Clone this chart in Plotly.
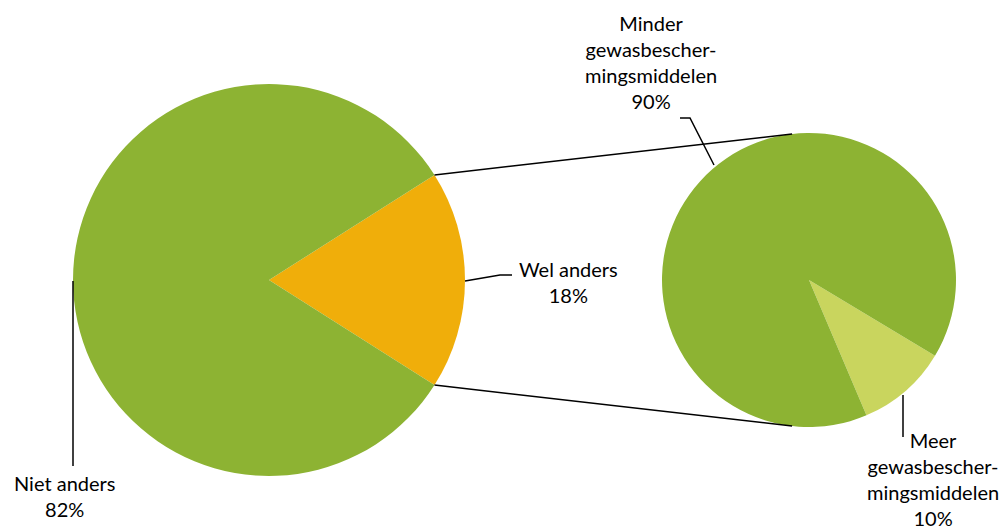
import math
import plotly.graph_objects as go

# ── Data ──────────────────────────────────────────────────────────────
main_labels = ["Wel anders", "Niet anders"]
main_values = [18, 82]
sub_labels = ["Meer gewasbescher-mingsmiddelen", "Minder gewasbescher-mingsmiddelen"]
sub_values = [10, 90]

GREEN = "#8DB333"
ORANGE = "#F0AE0A"
LIGHT = "#C9D55E"
FONT = "Lato, 'Open Sans', sans-serif"

# page body has an 8px margin, so the figure is drawn 8px in from the window corner
OFF = 8
W, H = 1008 - OFF, 529 - OFF

# pie geometry in window pixels (centre x, centre y, radius)
L_CX, L_CY, L_R = 269, 280, 196
R_CX, R_CY, R_R = 809, 280, 147


def px(x, y):
    return (x - OFF) / W, 1 - (y - OFF) / H


def dom(cx, cy, r):
    x0, y0 = px(cx - r, cy + r)
    x1, y1 = px(cx + r, cy - r)
    return dict(x=[x0, x1], y=[y0, y1])


# "Wel anders" slice centred on 3 o'clock
half = main_values[0] / sum(main_values) * 360 / 2

fig = go.Figure()
fig.add_trace(go.Pie(
    labels=main_labels, values=main_values, sort=False, direction="clockwise",
    rotation=90 - half, marker=dict(colors=[ORANGE, GREEN]),
    textinfo="none", hoverinfo="label+percent", domain=dom(L_CX, L_CY, L_R),
    showlegend=False,
))
fig.add_trace(go.Pie(
    labels=sub_labels, values=sub_values, sort=False, direction="clockwise",
    rotation=121, marker=dict(colors=[LIGHT, GREEN]),
    textinfo="none", hoverinfo="label+percent", domain=dom(R_CX, R_CY, R_R),
    showlegend=False,
))

shapes = []
# connector lines between the two pies
for sgn in (1, -1):
    a = math.radians(half) * sgn
    x0 = L_CX + L_R * math.cos(a)
    y0 = L_CY - L_R * math.sin(a)
    b = math.radians(90 + 6.6) * sgn
    x1 = R_CX + R_R * math.cos(b)
    y1 = R_CY - R_R * math.sin(b)
    p0, p1 = px(x0, y0), px(x1, y1)
    shapes.append(dict(type="line", xref="paper", yref="paper",
                       x0=p0[0], y0=p0[1], x1=p1[0], y1=p1[1],
                       line=dict(color="black", width=1.5)))


def leader(points):
    pts = [px(x, y) for x, y in points]
    path = "M " + " L ".join(f"{x},{y}" for x, y in pts)
    shapes.append(dict(type="path", xref="paper", yref="paper", path=path,
                       line=dict(color="black", width=1.5)))


leader([(73, 281), (73, 466)])
leader([(465, 281), (500, 275), (512, 275)])
leader([(714, 165), (690, 118), (680, 118)])
leader([(903, 395), (903, 437)])

annotations = []


def label(x, y, text):
    px_, py_ = px(x, y)
    annotations.append(dict(x=px_, y=py_, xref="paper", yref="paper", text=text,
                            showarrow=False, align="center", xanchor="center", yanchor="middle",
                            font=dict(size=20, color="black", family=FONT)))


label(64, 496, f"Niet anders<br>{main_values[1]}%")
label(568, 282, f"Wel anders<br>{main_values[0]}%")
label(651, 62, f"Minder<br>gewasbescher-<br>mingsmiddelen<br>{sub_values[1]}%")
label(933, 479, f"Meer<br>gewasbescher-<br>mingsmiddelen<br>{sub_values[0]}%")

fig.update_layout(
    width=W, height=H,
    margin=dict(l=0, r=0, t=0, b=0),
    paper_bgcolor="white", plot_bgcolor="white",
    shapes=shapes, annotations=annotations,
    font=dict(family=FONT),
)

fig.write_html("out.html")
